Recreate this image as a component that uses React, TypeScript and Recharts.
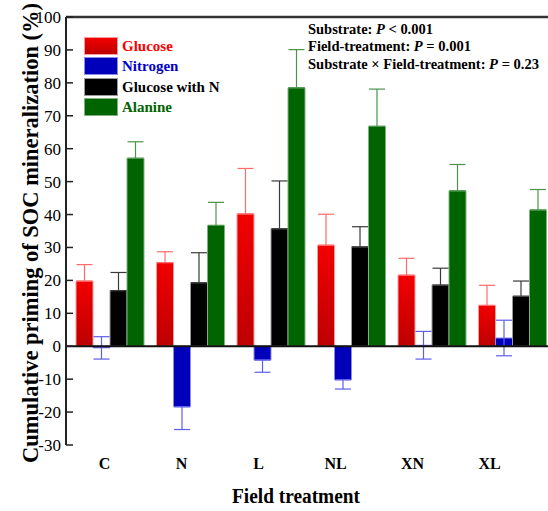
import React from 'react';
import { BarChart, Bar, XAxis, YAxis, ErrorBar, ReferenceLine, Legend, Label } from 'recharts';

const categories = ['C', 'N', 'L', 'NL', 'XN', 'XL'];
const glucose = [19.8, 25.4, 40.2, 30.7, 21.6, 12.4];
const glucoseErr = [5.0, 3.3, 13.8, 9.4, 5.1, 6.1];
const nitrogen = [-0.5, -18.4, -4.2, -10.2, 0.3, 2.5];
const nitrogenErr = [3.4, 6.9, 3.7, 2.8, 4.2, 5.4];
const glucoseN = [16.9, 19.3, 35.7, 30.2, 18.6, 15.2];
const glucoseNErr = [5.5, 9.1, 14.5, 6.1, 5.1, 4.6];
const alanine = [57.1, 36.7, 78.5, 66.8, 47.2, 41.4];
const alanineErr = [5.0, 7.0, 11.6, 11.3, 8.0, 6.2];
const yTicks = [-30, -20, -10, 0, 10, 20, 30, 40, 50, 60, 70, 80, 90, 100];
const statLines = [
  { pre: 'Substrate: ', post: ' < 0.001' },
  { pre: 'Field-treatment: ', post: ' = 0.001' },
  { pre: 'Substrate × Field-treatment: ', post: ' = 0.23' },
];

const FONT = '"Liberation Serif", "Times New Roman", "DejaVu Serif", serif';

// error bars are drawn outward from zero; when the error spans zero, both sides are shown
const errPair = (v: number, e: number): [number, number] => {
  if (v >= e) return [0, e];
  if (v <= -e) return [e, 0];
  return [e, e];
};

const data = categories.map((name, i) => ({
  name,
  glucose: glucose[i],
  glucoseErr: errPair(glucose[i], glucoseErr[i]),
  nitrogen: nitrogen[i],
  nitrogenErr: errPair(nitrogen[i], nitrogenErr[i]),
  glucoseN: glucoseN[i],
  glucoseNErr: errPair(glucoseN[i], glucoseNErr[i]),
  alanine: alanine[i],
  alanineErr: errPair(alanine[i], alanineErr[i]),
}));

const series = [
  { key: 'glucose', name: 'Glucose', fill: 'url(#redGrad)', swatch: 'linear-gradient(#f20000, #bd0000)', stroke: '#ff9a9a', err: '#ff6a6a', text: '#ff0000' },
  { key: 'nitrogen', name: 'Nitrogen', fill: '#0000bb', swatch: '#0000bb', stroke: '#8a8ae8', err: '#5e5eea', text: '#0000cc' },
  { key: 'glucoseN', name: 'Glucose with N', fill: '#000000', swatch: '#000000', stroke: '#9a9a9a', err: '#3a3a3a', text: '#000000' },
  { key: 'alanine', name: 'Alanine', fill: '#006400', swatch: '#006400', stroke: '#7fb07f', err: '#4a944a', text: '#006400' },
];

const YTick = (props: any) => {
  const { x, y, payload } = props;
  return (
    <g>
      <line x1={x + 5} x2={x + 12} y1={y} y2={y} stroke="#222" strokeWidth={1.5} />
      <text x={x} y={y} dy={6} textAnchor="end" fontSize={17} fontFamily={FONT} fill="#000">
        {payload.value}
      </text>
    </g>
  );
};

const XTick = (props: any) => {
  const { x, y, payload } = props;
  return (
    <text x={x} y={y} dy={24} textAnchor="middle" fontSize={16} fontWeight="bold" fontFamily={FONT} fill="#000">
      {payload.value}
    </text>
  );
};

const LegendContent = () => (
  <div style={{ fontFamily: FONT, fontWeight: 'bold', fontSize: 15 }}>
    {series.map((s) => (
      <div key={s.key} style={{ display: 'flex', alignItems: 'center', height: 20.3 }}>
        <div
          style={{
            width: 34,
            height: 18,
            background: s.swatch,
            boxSizing: 'border-box',
            border: `1px solid ${s.stroke}`,
            marginRight: 4,
            alignSelf: 'flex-start',
          }}
        />
        <span style={{ color: s.text, marginTop: -1, whiteSpace: 'nowrap' }}>{s.name}</span>
      </div>
    ))}
  </div>
);

export default function App() {
  return (
    <div style={{ position: 'absolute', left: 0, top: 0, width: 548, height: 511, overflow: 'hidden', background: '#fff' }}>
      <BarChart
        width={548}
        height={511}
        data={data}
        margin={{ top: 17, right: -4, bottom: 0, left: 0 }}
        barCategoryGap={7}
        barGap={0}
      >
        <defs>
          <linearGradient id="redGrad" x1="0" y1="0" x2="0" y2="1">
            <stop offset="0%" stopColor="#f20000" />
            <stop offset="100%" stopColor="#bd0000" />
          </linearGradient>
        </defs>
        <XAxis
          xAxisId="bars"
          dataKey="name"
          height={0}
          tick={false}
          tickLine={false}
          axisLine={{ stroke: '#222', strokeWidth: 2 }}
          padding={{ left: 3, right: 0 }}
        />
        <XAxis
          xAxisId="lab"
          dataKey="name"
          height={66}
          tickLine={false}
          axisLine={false}
          tickSize={0}
          tickMargin={0}
          interval={0}
          tick={<XTick />}
          padding={{ left: 0, right: 24 }}
        >
          <Label
            content={() => (
              <text x={296} y={503} textAnchor="middle" fontSize={20} fontWeight="bold" fontFamily={FONT} fill="#000" textLength={128} lengthAdjust="spacingAndGlyphs">
                Field treatment
              </text>
            )}
          />
        </XAxis>
        <YAxis
          width={66}
          domain={[-30, 100]}
          ticks={yTicks}
          interval={0}
          allowDataOverflow
          tickLine={false}
          tickSize={0}
          tickMargin={5}
          tick={<YTick />}
          axisLine={{ stroke: '#222', strokeWidth: 2 }}
        >
          <Label
            content={(p: any) => {
              const vb = p.viewBox || { y: 17, height: 428 };
              const cy = vb.y + vb.height / 2 + 2;
              return (
                <text
                  x={37.5}
                  y={cy}
                  transform={`rotate(-90, 37.5, ${cy})`}
                  textAnchor="middle"
                  fontSize={23}
                  fontWeight="bold"
                  fontFamily={FONT}
                  fill="#000"
                  textLength={460}
                  lengthAdjust="spacingAndGlyphs"
                >
                  Cumulative priming of SOC mineralization (%)
                </text>
              );
            }}
          />
        </YAxis>
        <Legend
          layout="vertical"
          align="center"
          verticalAlign="middle"
          content={<LegendContent />}
          wrapperStyle={{ position: 'absolute', left: 84, top: 37, width: 'auto', height: 'auto' }}
        />
        {series.map((s) => (
          <Bar
            key={s.key}
            xAxisId="bars"
            dataKey={s.key}
            name={s.name}
            fill={s.fill}
            stroke={s.stroke}
            strokeWidth={1}
            isAnimationActive={false}
          >
            <ErrorBar dataKey={`${s.key}Err`} width={8} stroke={s.err} strokeWidth={1.2} direction="y" />
          </Bar>
        ))}
        <ReferenceLine xAxisId="bars" y={0} stroke="#111" strokeWidth={2} />
        <ReferenceLine xAxisId="bars" y={100} stroke="#333" strokeWidth={2.5} />
      </BarChart>
      <svg width={548} height={511} style={{ position: 'absolute', left: 0, top: 0, pointerEvents: 'none' }}>
        {statLines.map((l, i) => (
          <text
            key={i}
            x={308}
            y={33.5 + i * 17.7}
            fontSize={14.3}
            fontWeight="bold"
            fontFamily={FONT}
            fill="#000"
            textLength={[125, 163, 231][i]}
            lengthAdjust="spacingAndGlyphs"
          >
            {l.pre}
            <tspan fontStyle="italic">P</tspan>
            {l.post}
          </text>
        ))}
      </svg>
    </div>
  );
}
